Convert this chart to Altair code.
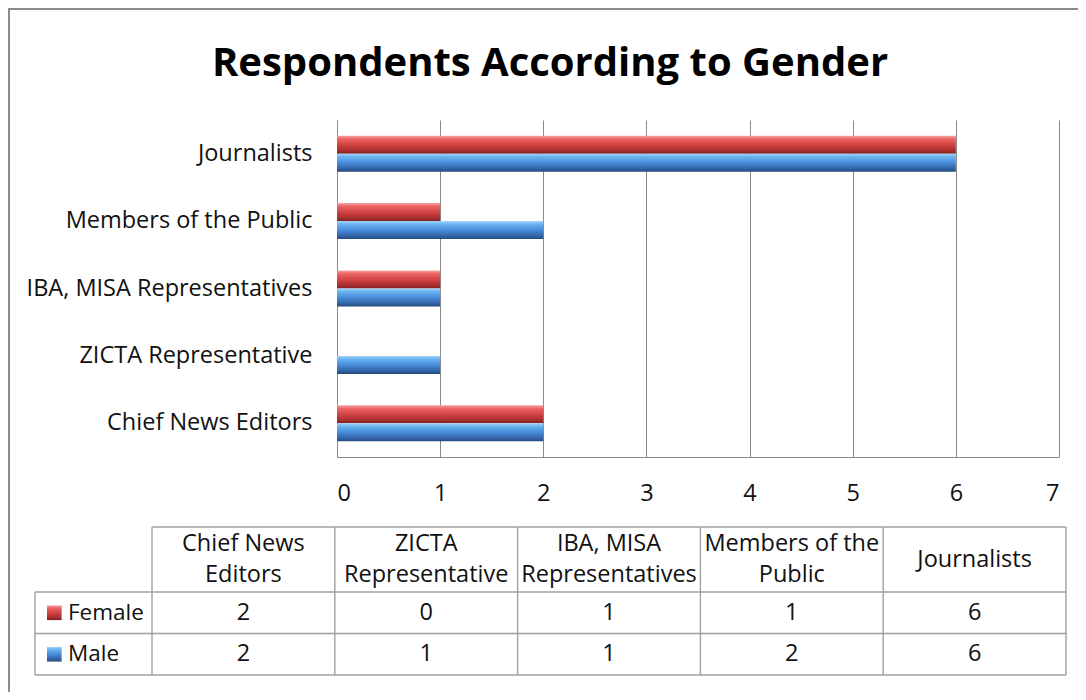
import altair as alt
import pandas as pd

# ---------------- data ----------------
categories = ["Chief News Editors", "ZICTA Representative", "IBA, MISA Representatives",
              "Members of the Public", "Journalists"]
header_labels = ["Chief News\nEditors", "ZICTA\nRepresentative", "IBA, MISA\nRepresentatives",
                 "Members of the\nPublic", "Journalists"]
genders = ["Female", "Male"]
female = [2, 0, 1, 1, 6]
male = [2, 1, 1, 2, 6]
x_ticks = [0, 1, 2, 3, 4, 5, 6, 7]
chart_title = "Respondents According to Gender"

# ---------------- style ----------------
FONT = "Open Sans"
TXT = "#111111"
GRID = "#8a8a8a"
TABLE_LINE = "#a0a0a0"
FS = 23.5
W, H = 722, 337
PAD = {"left": 329, "top": 112, "right": 19, "bottom": 235}

RED = {"gradient": "linear", "x1": 0, "x2": 0, "y1": 0, "y2": 1,
       "stops": [{"offset": 0, "color": "#f6a3a3"}, {"offset": 0.18, "color": "#ec6464"},
                 {"offset": 0.5, "color": "#d24343"}, {"offset": 0.82, "color": "#a92f2f"},
                 {"offset": 1, "color": "#7f2020"}]}
BLUE = {"gradient": "linear", "x1": 0, "x2": 0, "y1": 0, "y2": 1,
        "stops": [{"offset": 0, "color": "#a3d4fa"}, {"offset": 0.18, "color": "#6ab2f0"},
                  {"offset": 0.5, "color": "#488cda"}, {"offset": 0.82, "color": "#3365a7"},
                  {"offset": 1, "color": "#244a7e"}]}
FILLS = {"Female": RED, "Male": BLUE}

# ---------------- bars ----------------
bar_rows = [{"category": c, "gender": g, "value": v}
            for g, vals in zip(genders, [female, male])
            for c, v in zip(categories, vals)]
bars_df = pd.DataFrame(bar_rows)
cat_order = list(reversed(categories))

x_axis = alt.Axis(values=x_ticks, format="d", grid=True, gridColor=GRID, gridWidth=1,
                  ticks=False, domainColor=GRID, labelFont=FONT, labelFontSize=FS,
                  labelColor=TXT, labelPadding=24, title=None)
y_axis = alt.Axis(ticks=False, domainColor=GRID, labelFont=FONT, labelFontSize=FS,
                  labelColor=TXT, labelPadding=25, title=None, labelLimit=400)


def bar_layer(g):
    return alt.Chart(bars_df).transform_filter(alt.datum.gender == g).mark_bar(
        fill=FILLS[g]).encode(
        x=alt.X("value:Q", scale=alt.Scale(domain=[0, 7], nice=False), axis=x_axis),
        y=alt.Y("category:N", sort=cat_order,
                scale=alt.Scale(paddingInner=0.466, paddingOuter=0.233), axis=y_axis),
        yOffset=alt.YOffset("gender:N", scale=alt.Scale(domain=genders, paddingInner=0,
                                                         paddingOuter=0)),
    )


bars = alt.layer(bar_layer("Female"), bar_layer("Male"))

# ---------------- data table below ----------------
tx = alt.Scale(domain=[0, 1, 6], range=[-302, -185, 729], zero=False, nice=False)
ty = alt.Scale(domain=[0, 1, 3], range=[407, 472, 555], zero=False, nice=False)

cells = []
for i, lbl in enumerate(header_labels):
    cells.append({"col": i + 1.5, "row": 0.5, "text": lbl, "lines": lbl.count("\n") + 1})
for r, vals in enumerate([female, male]):
    for i, v in enumerate(vals):
        cells.append({"col": i + 1.5, "row": r + 1.5, "text": str(v), "lines": 1})
cells_df = pd.DataFrame(cells)

legend_df = pd.DataFrame([{"row": r + 1.5, "gender": g, "tcol": 0.282, "scol": 0.165}
                          for r, g in enumerate(genders)])

h_lines = pd.DataFrame([{"row": 0, "c0": 1, "c1": 6}] +
                       [{"row": r, "c0": 0, "c1": 6} for r in (1, 2, 3)])
v_lines = pd.DataFrame([{"col": 0, "r0": 1, "r1": 3}] +
                       [{"col": c, "r0": 0, "r1": 3} for c in range(1, 7)])

hl = alt.Chart(h_lines).mark_rule(color=TABLE_LINE, strokeWidth=1.4).encode(
    x=alt.X("c0:Q", scale=tx, axis=None), x2="c1:Q",
    y=alt.Y("row:Q", scale=ty, axis=None))
vl = alt.Chart(v_lines).mark_rule(color=TABLE_LINE, strokeWidth=1.4).encode(
    x=alt.X("col:Q", scale=tx, axis=None),
    y=alt.Y("r0:Q", scale=ty, axis=None), y2="r1:Q")


def cell_layer(n_lines, dy):
    return alt.Chart(cells_df).transform_filter(alt.datum.lines == n_lines).mark_text(
        font=FONT, fontSize=FS, color=TXT, align="center", baseline="middle",
        lineBreak="\n", lineHeight=31, dy=dy).encode(
        x=alt.X("col:Q", scale=tx, axis=None),
        y=alt.Y("row:Q", scale=ty, axis=None),
        text="text:N")


leg_text = alt.Chart(legend_df).mark_text(font=FONT, fontSize=22.5, color=TXT, align="left",
                                          baseline="middle").encode(
    x=alt.X("tcol:Q", scale=tx, axis=None),
    y=alt.Y("row:Q", scale=ty, axis=None),
    text="gender:N")


def swatch(g):
    return alt.Chart(legend_df).transform_filter(alt.datum.gender == g).mark_square(
        size=215, fill=FILLS[g], opacity=1).encode(
        x=alt.X("scol:Q", scale=tx, axis=None),
        y=alt.Y("row:Q", scale=ty, axis=None))


# chart title, drawn as a text mark centred over the whole frame
title_mark = alt.Chart(alt.Data(values=[{"t": chart_title}])).mark_text(
    font=FONT, fontSize=40, fontWeight="bold", color="#000000", align="center",
    baseline="alphabetic").encode(x=alt.value(213), y=alt.value(-44), text="t:N")

# outer frame around the whole chart
frame = alt.Chart(alt.Data(values=[{}])).mark_rect(
    fill="white", fillOpacity=0, stroke="#8c8c8c", strokeWidth=2).encode(
    x=alt.value(-328), x2=alt.value(W + 40), y=alt.value(-111), y2=alt.value(H + 260))

chart = alt.layer(
    frame, title_mark, bars, hl, vl, cell_layer(1, 0), cell_layer(2, -15.5), leg_text,
    swatch("Female"), swatch("Male")
).resolve_scale(
    x="independent", y="independent"
).properties(
    width=W, height=H,
    autosize=alt.AutoSizeParams(type="none"),
    padding=PAD,
).configure_view(stroke=None)

chart.save("out.html", embed_options={"renderer": "svg", "actions": False})
